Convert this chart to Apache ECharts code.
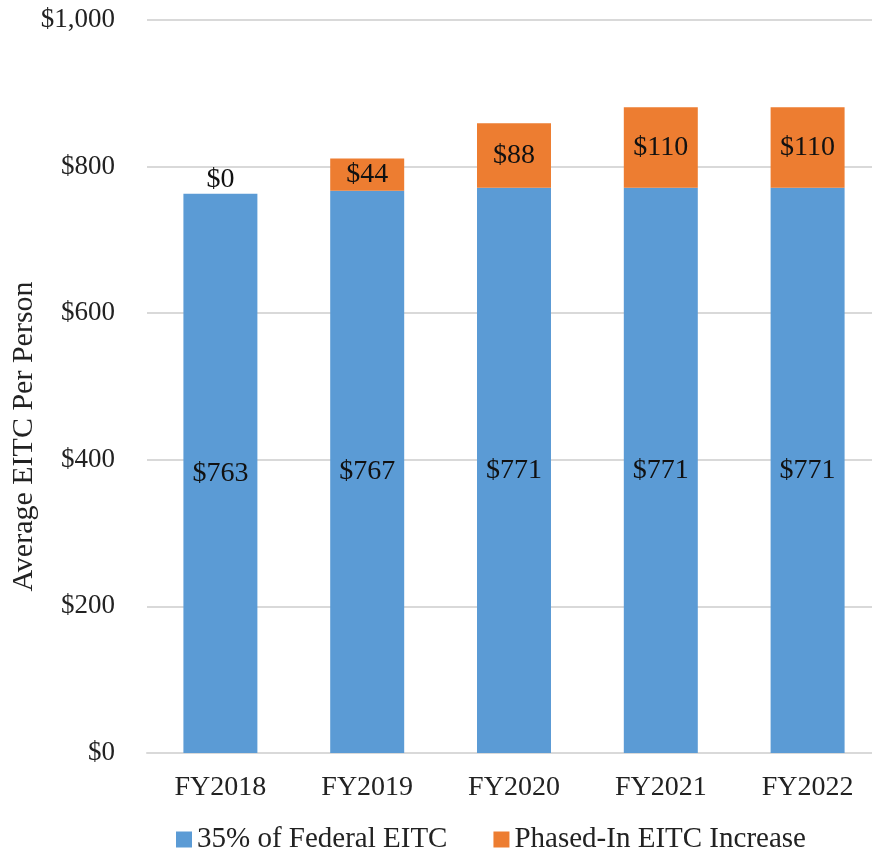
<!DOCTYPE html>
<html>
<head>
<meta charset="utf-8">
<script src="https://cdn.jsdelivr.net/npm/echarts@6/dist/echarts.min.js"></script>
<style>
  html, body { margin: 0; padding: 0; background: #fff; }
  #chart { width: 872px; height: 854px; }
</style>
</head>
<body>
<div id="chart"></div>
<script>
    // data
    const categories = ["FY2018", "FY2019", "FY2020", "FY2021", "FY2022"];
    const federalEitc = [763, 767, 771, 771, 771];
    const phasedIncrease = [0, 44, 88, 110, 110];
    const seriesNames = ["35% of Federal EITC", "Phased-In EITC Increase"];

    const FONT = "'Liberation Serif', 'DejaVu Serif', serif";

    const chart = echarts.init(document.getElementById('chart'));

    const money = function (v) {
        return '$' + v.toLocaleString('en-US');
    };

    // zero-height segment: show label above the bar
    const phasedData = phasedIncrease.map(function (v) {
        if (v === 0) {
            return { value: v, label: { position: 'top', distance: 0 } };
        }
        return v;
    });

    const dataLabel = {
        show: true,
        position: 'inside',
        fontFamily: FONT,
        fontSize: 28,
        color: '#111',
        formatter: function (p) { return money(p.value); }
    };

    const option = {
        animation: false,
        color: ['#5B9BD5', '#ED7D31'],
        textStyle: { fontFamily: FONT },
        grid: {
            left: 147,
            right: -9,
            top: 20,
            bottom: 101,
            outerBoundsMode: 'none'
        },
        legend: {
            bottom: -5,
            left: 171,
            itemWidth: 16,
            itemHeight: 16,
            itemGap: 46,
            icon: 'rect',
            textStyle: { fontFamily: FONT, fontSize: 29, color: '#222' },
            data: seriesNames
        },
        xAxis: {
            type: 'category',
            data: categories,
            axisTick: { show: false },
            axisLine: { lineStyle: { color: '#d9d9d9', width: 2 } },
            axisLabel: { fontFamily: FONT, fontSize: 28, color: '#222', margin: 21 }
        },
        yAxis: {
            type: 'value',
            min: 0,
            max: 1000,
            interval: 200,
            name: 'Average EITC Per Person',
            nameLocation: 'middle',
            nameGap: 108,
            nameMoveOverlap: false,
            nameTextStyle: {
                fontFamily: FONT, fontSize: 30, color: '#222',
                padding: [0, 100, 0, 0]
            },
            axisLine: { show: false },
            axisTick: { show: false },
            splitLine: { lineStyle: { color: '#d9d9d9', width: 2 } },
            axisLabel: {
                fontFamily: FONT, fontSize: 27, color: '#222', margin: 32,
                formatter: money
            }
        },
        series: [
            {
                name: seriesNames[0],
                type: 'bar',
                stack: 'eitc',
                barWidth: '50.4%',
                data: federalEitc,
                label: dataLabel
            },
            {
                name: seriesNames[1],
                type: 'bar',
                stack: 'eitc',
                barWidth: '50.4%',
                data: phasedData,
                label: dataLabel
            }
        ]
    };

    chart.setOption(option);
</script>
</body>
</html>
